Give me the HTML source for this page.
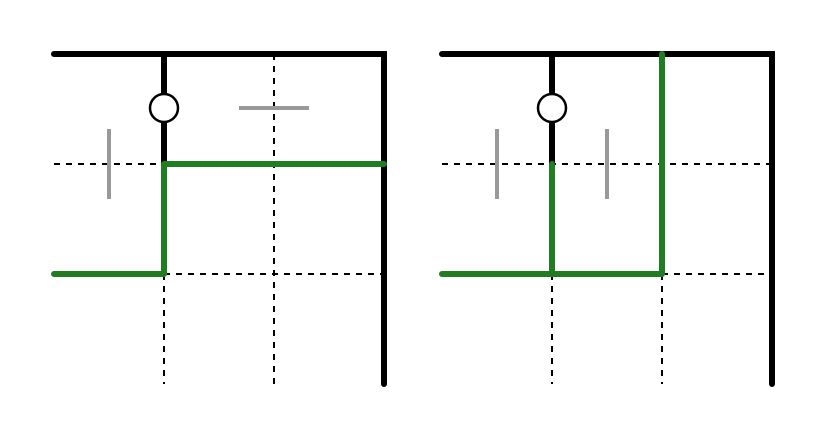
<!DOCTYPE html>
<html><head><style>body{margin:0;background:#fff}svg{display:block}</style></head><body>
<svg width="826" height="438" viewBox="0 0 826 438" xmlns="http://www.w3.org/2000/svg">
<g stroke="#000" stroke-width="2" stroke-dasharray="6,6" fill="none">
<line x1="54" y1="164" x2="164" y2="164"/>
<line x1="274" y1="54" x2="274" y2="384"/>
<line x1="164" y1="274" x2="384" y2="274"/>
<line x1="164" y1="274" x2="164" y2="384"/>
<line x1="442" y1="164" x2="772" y2="164"/>
<line x1="662" y1="274" x2="772" y2="274"/>
<line x1="552" y1="274" x2="552" y2="384"/>
<line x1="662" y1="274" x2="662" y2="384"/>
</g>
<g stroke="#999" stroke-width="4">
<line x1="109" y1="129" x2="109" y2="199"/>
<line x1="239" y1="108" x2="309" y2="108"/>
<line x1="497" y1="129" x2="497" y2="199"/>
<line x1="607" y1="129" x2="607" y2="199"/>
</g>
<g stroke="#000" stroke-width="6" stroke-linecap="round" fill="none">
<polyline points="54,54 384,54 384,384"/>
<line x1="164" y1="54" x2="164" y2="164"/>
<polyline points="442,54 772,54 772,384"/>
<line x1="552" y1="54" x2="552" y2="164"/>
</g>
<g stroke="#217d21" stroke-width="6" stroke-linecap="round" stroke-linejoin="round" fill="none">
<polyline points="54,274 164,274 164,164 384,164"/>
<line x1="552" y1="164" x2="552" y2="274"/>
<polyline points="442,274 662,274 662,54"/>
</g>
<circle cx="164" cy="108" r="14" fill="#fff" stroke="#000" stroke-width="2.5"/>
<circle cx="552" cy="108" r="14" fill="#fff" stroke="#000" stroke-width="2.5"/>
</svg>
</body></html>
